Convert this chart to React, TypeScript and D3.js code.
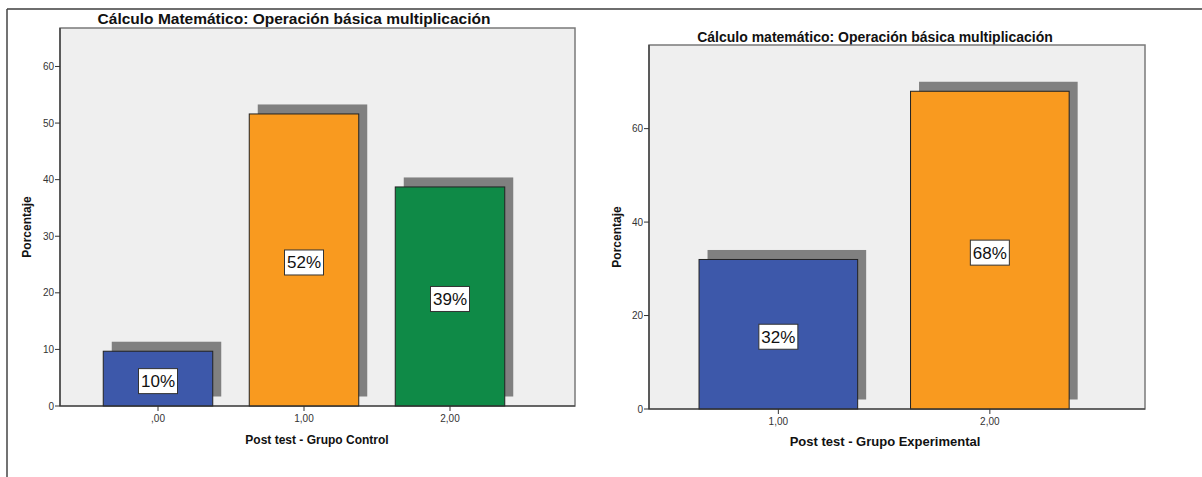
import React from "react";
import * as d3 from "d3";

// Post test, control group: share of students per score level
const controlCategories = [",00", "1,00", "2,00"];
const controlPercent = [9.68, 51.61, 38.71];
const controlTicks = [0, 10, 20, 30, 40, 50, 60];

// Post test, experimental group
const experimentalCategories = ["1,00", "2,00"];
const experimentalPercent = [32, 68];
const experimentalTicks = [0, 20, 40, 60];

const BLUE = "#3d58aa";
const ORANGE = "#f99a1f";
const GREEN = "#0f8a47";
const FONT = "'Liberation Sans', Arial, Helvetica, sans-serif";

type ChartProps = {
  title: string;
  titleSize: number;
  titleX: number;
  titleY: number;
  xTitle: string;
  xTitleX: number;
  xTitleY: number;
  xTitleSize: number;
  yTitleX: number;
  categories: string[];
  values: number[];
  colors: string[];
  ticks: number[];
  yMax: number;
  plot: { left: number; right: number; top: number; bottom: number };
  band: [number, number];
};

function BarPanel(p: ChartProps) {
  const x = d3
    .scaleBand<string>()
    .domain(p.categories)
    .range(p.band)
    .paddingInner(0.25)
    .paddingOuter(0.125);
  const y = d3.scaleLinear().domain([0, p.yMax]).range([p.plot.bottom, p.plot.top]);
  const fmt = (v: number) => d3.format(".0f")(v) + "%";
  const shadowDx = 8.5;
  const shadowDy = 9.5;
  const { left, right, top, bottom } = p.plot;
  const midY = (top + bottom) / 2;

  return (
    <g fontFamily={FONT}>
      <text
        x={p.titleX}
        y={p.titleY}
        textAnchor="middle"
        fontSize={p.titleSize}
        fontWeight="bold"
        fill="#111"
      >
        {p.title}
      </text>
      <rect
        x={left}
        y={top}
        width={right - left}
        height={bottom - top}
        fill="#efefef"
        stroke="#7a7a7a"
        strokeWidth={1.5}
      />
      {/* drop shadows behind the bars */}
      {p.values.map((v, i) => (
        <rect
          key={"s" + i}
          x={(x(p.categories[i]) as number) + shadowDx}
          y={y(v) - shadowDy}
          width={x.bandwidth()}
          height={y(0) - y(v)}
          fill="#808080"
        />
      ))}
      {p.values.map((v, i) => (
        <rect
          key={"b" + i}
          x={x(p.categories[i]) as number}
          y={y(v)}
          width={x.bandwidth()}
          height={y(0) - y(v)}
          fill={p.colors[i]}
          stroke="#222"
          strokeWidth={1}
        />
      ))}
      {p.values.map((v, i) => {
        const cx = (x(p.categories[i]) as number) + x.bandwidth() / 2;
        const cy = (y(v) + y(0)) / 2 + 2.5;
        return (
          <g key={"l" + i}>
            <rect
              x={cx - 19.5}
              y={cy - 12.5}
              width={39}
              height={25}
              fill="#fff"
              stroke="#333"
              strokeWidth={1}
            />
            <text
              x={cx}
              y={cy + 6}
              textAnchor="middle"
              fontSize={17}
              fill="#111"
            >
              {fmt(v)}
            </text>
          </g>
        );
      })}
      {/* axes */}
      <line x1={left} x2={left} y1={top} y2={bottom} stroke="#333" strokeWidth={1.2} />
      <line x1={left} x2={right} y1={bottom} y2={bottom} stroke="#333" strokeWidth={1.2} />
      {p.ticks.map((t) => (
        <g key={"yt" + t}>
          <line x1={left - 5} x2={left} y1={y(t)} y2={y(t)} stroke="#333" />
          <text
            x={left - 6}
            y={y(t) + 3.5}
            textAnchor="end"
            fontSize={10}
            fill="#333"
          >
            {t}
          </text>
        </g>
      ))}
      {p.categories.map((c) => {
        const cx = (x(c) as number) + x.bandwidth() / 2;
        return (
          <g key={"xt" + c}>
            <line x1={cx} x2={cx} y1={bottom} y2={bottom + 5} stroke="#333" />
            <text x={cx} y={bottom + 16} textAnchor="middle" fontSize={10} fill="#333">
              {c}
            </text>
          </g>
        );
      })}
      <text
        x={p.xTitleX}
        y={p.xTitleY}
        textAnchor="middle"
        fontSize={p.xTitleSize}
        fontWeight="bold"
        fill="#111"
      >
        {p.xTitle}
      </text>
      <text
        transform={`translate(${p.yTitleX},${midY + 10}) rotate(-90)`}
        textAnchor="middle"
        fontSize={12}
        fontWeight="bold"
        fill="#111"
      >
        Porcentaje
      </text>
    </g>
  );
}

export default function App() {
  return (
    <svg
      width={1202}
      height={477}
      style={{ position: "absolute", left: 0, top: 0, background: "#fff" }}
    >
      <rect width={1202} height={477} fill="#fff" />
      {/* page frame */}
      <line x1={7} x2={1202} y1={9} y2={9} stroke="#6e6e6e" strokeWidth={2} />
      <line x1={7} x2={7} y1={9} y2={477} stroke="#444" strokeWidth={1.5} />
      <BarPanel
        title="Cálculo Matemático: Operación básica multiplicación"
        titleSize={15.5}
        titleX={294}
        titleY={24}
        xTitle="Post test - Grupo Control"
        xTitleX={317}
        xTitleY={444}
        xTitleSize={12}
        yTitleX={31}
        categories={controlCategories}
        values={controlPercent}
        colors={[BLUE, ORANGE, GREEN]}
        ticks={controlTicks}
        yMax={66.8}
        plot={{ left: 60, right: 575, top: 28, bottom: 406 }}
        band={[85, 523]}
      />
      <BarPanel
        title="Cálculo matemático: Operación básica multiplicación"
        titleSize={14}
        titleX={875}
        titleY={42}
        xTitle="Post test - Grupo Experimental"
        xTitleX={885}
        xTitleY={446}
        xTitleSize={13}
        yTitleX={621}
        categories={experimentalCategories}
        values={experimentalPercent}
        colors={[BLUE, ORANGE]}
        ticks={experimentalTicks}
        yMax={77.9}
        plot={{ left: 649, right: 1145, top: 45, bottom: 409 }}
        band={[672.6, 1095.6]}
      />
    </svg>
  );
}
